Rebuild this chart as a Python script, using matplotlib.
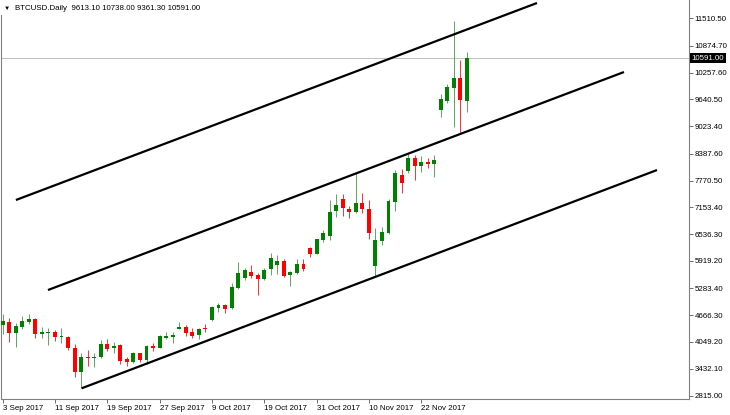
import numpy as np
import matplotlib.pyplot as plt
from matplotlib.transforms import blended_transform_factory

plt.rcParams['font.family'] = ['Liberation Sans', 'DejaVu Sans']

# daily candles (one per bar)
opens = [4441, 4517, 4263, 4402, 4517, 4572, 4226, 4249, 4272, 4164,
         4171, 3918, 3364, 3710, 3687, 3710, 3996, 3904, 3980, 3650,
         3595, 3788, 3634, 3964, 3918, 4148, 4171, 4349, 4402, 4286,
         4210, 4365, 4556, 4840, 4902, 4833, 5287, 5517, 5669, 5593,
         5494, 5725, 5824, 5923, 5593, 5646, 5847, 6209, 6077, 6400,
         6492, 7068, 7338, 7115, 7052, 7246, 7108, 5801, 6384, 6554,
         7283, 7898, 7979, 8283, 8113, 8205, 8152, 9396, 9611, 9911,
         10127, 9613.10]
highs = [4694, 4602, 4487, 4648, 4694, 4595, 4402, 4372, 4326, 4365,
         4194, 3996, 3788, 3865, 3788, 4095, 4118, 4042, 4003, 3710,
         3812, 3802, 3980, 4019, 4210, 4272, 4286, 4503, 4441, 4365,
         4379, 4457, 4886, 4955, 4918, 5416, 5900, 5748, 5824, 5632,
         5748, 6093, 6054, 5955, 5685, 5955, 5955, 6246, 6423, 6630,
         7322, 7453, 7460, 7184, 7933, 7490, 7322, 6677, 6693, 7338,
         8013, 8030, 8398, 8359, 8336, 8297, 8352, 9765, 9996, 11448,
         10549, 10738.00]
lows = [4233, 4049, 3934, 4349, 4464, 4134, 4134, 3980, 4072, 4019,
        3865, 3249, 2995, 3496, 3466, 3673, 3841, 3788, 3542, 3503,
        3558, 3595, 3542, 3841, 3904, 4118, 4019, 4340, 4194, 4148,
        4118, 4272, 4533, 4747, 4710, 4810, 5271, 5478, 5517, 5132,
        5478, 5593, 5609, 5554, 5347, 5609, 5685, 6015, 6070, 6347,
        6400, 6930, 6953, 6914, 7015, 7029, 6416, 5560, 6285, 6538,
        7075, 7490, 7944, 7783, 7960, 8053, 7859, 9242, 9565, 8998,
        8843, 9361.30]
closes = [4533, 4263, 4425, 4533, 4579, 4226, 4272, 4272, 4171, 4187,
          3904, 3364, 3710, 3673, 3710, 3996, 3888, 3964, 3618, 3595,
          3788, 3634, 3957, 3918, 4187, 4194, 4210, 4402, 4263, 4187,
          4349, 4342, 4863, 4902, 4810, 5324, 5646, 5702, 5577, 5494,
          5709, 5978, 5916, 5577, 5669, 5847, 5725, 6070, 6416, 6554,
          7045, 7207, 7131, 7052, 7246, 7108, 6554, 6400, 6591, 7306,
          7937, 7714, 8283, 8113, 8191, 8159, 8237, 9643, 9934, 10127,
          9627, 10591.00]

date_labels = ['3 Sep 2017', '11 Sep 2017', '19 Sep 2017', '27 Sep 2017', '9 Oct 2017',
               '19 Oct 2017', '31 Oct 2017', '10 Nov 2017', '22 Nov 2017']
price_ticks = [2815.00, 3432.10, 4049.20, 4666.30, 5283.40, 5919.20, 6536.30, 7153.40,
               7770.50, 8387.60, 9023.40, 9640.50, 10257.60, 10874.70, 11510.50]

# channel lines, (bar, price) at each end
upper_x = [2.03, 81.7]
upper_y = [7322, 11863]
middle_x = [6.93, 95.0]
middle_y = [5247, 10272]
lower_x = [12.08, 100.05]
lower_y = [2982, 8013]

last_price = 10591.00
title = 'BTCUSD.Daily  9613.10 10738.00 9361.30 10591.00'

o = np.array(opens)
c = np.array(closes)
x = np.arange(len(o))
up = c >= o
col = np.where(up, '#008000', '#ff0000')
wick_col = np.where(up, '#5aa85a', '#ff3030')

fig = plt.figure(figsize=(7.3, 4.15), dpi=100)
ax = fig.add_axes([0.002, 0.0378, 0.9418, 0.9622])

# candles
ax.vlines(x, lows, highs, colors=wick_col, linewidth=0.7, zorder=2)
body = np.maximum(np.abs(c - o), 20)
ax.bar(x, body, bottom=np.minimum(o, c), width=0.6, color=col, linewidth=0, zorder=3)

# channel
for xs, ys in [(upper_x, upper_y), (middle_x, middle_y), (lower_x, lower_y)]:
    ax.plot(xs, ys, color='black', linewidth=1.6, solid_capstyle='butt', zorder=4)

ax.axhline(last_price, color='#c0c0c0', linewidth=0.7, zorder=1)

ax.set_xlim(-0.18, 104.94)
ax.set_ylim(2728, 11932)

ax.yaxis.tick_right()
ax.set_yticks(price_ticks)
ax.set_yticklabels(['%.2f' % p for p in price_ticks])
ax.set_xticks(range(0, len(date_labels) * 8, 8))
ax.set_xticklabels(date_labels, ha='left')
ax.tick_params(axis='both', labelsize=5.7, length=3, width=0.6, color='#555555', pad=1.2)
ax.tick_params(axis='x', pad=0.8)

for s in ['left', 'right', 'bottom']:
    ax.spines[s].set_color('#808080')
    ax.spines[s].set_linewidth(0.8)
ax.spines['top'].set_visible(False)

# current price tag on the axis
tr = blended_transform_factory(ax.transAxes, ax.transData)
ax.text(1.004, last_price, '%.2f' % last_price, transform=tr, fontsize=5.7, color='white',
        va='center', ha='left', clip_on=False, zorder=10,
        bbox=dict(facecolor='black', edgecolor='none', pad=1.2))

# header
fig.text(0.0, 1.0, '     ', fontsize=9, va='top', ha='left',
         bbox=dict(facecolor='white', edgecolor='none', pad=2))
fig.text(4 / 730, 1 - 8.5 / 415, '\u25bc', fontsize=4.5, va='center', ha='left')
fig.text(15 / 730, 1 - 8.5 / 415, title, fontsize=5.7, va='center', ha='left')

fig.savefig('out.png', dpi=100)
